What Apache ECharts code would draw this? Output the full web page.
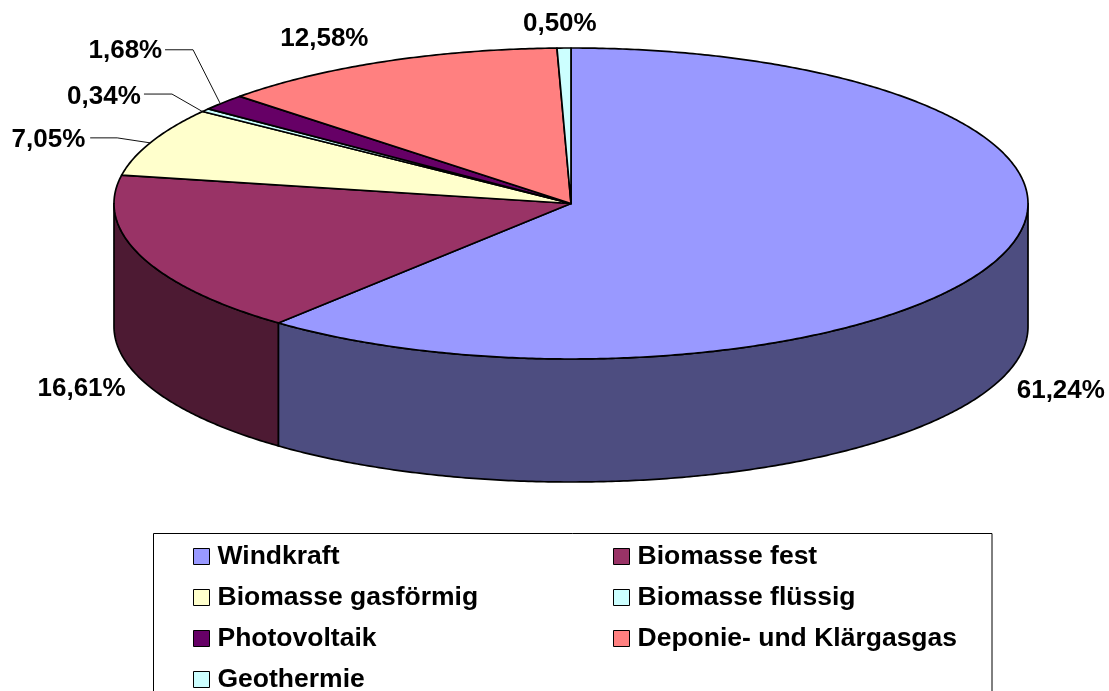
<!DOCTYPE html>
<html>
<head>
<meta charset="utf-8">
<style>html,body{margin:0;padding:0;background:#fff;overflow:hidden}#c{width:1109px;height:691px}</style>
<script src="https://cdn.jsdelivr.net/npm/echarts@6/dist/echarts.min.js"></script>
</head>
<body>
<div id="c"></div>
<script>
const categories = ['Windkraft','Biomasse fest','Biomasse gasförmig','Biomasse flüssig','Photovoltaik','Deponie- und Klärgasgas','Geothermie'];
const shares = [61.24,16.61,7.05,0.34,1.68,12.58,0.50];
const colors = ['#9999FF','#993366','#FFFFCC','#CCFFFF','#660066','#FF8080','#CCFFFF'];
const sideColors = ['#4D4D80','#4D1A33','#80806A','#6A8080','#330033','#804040','#6A8080'];

// Layout: pie geometry and label offsets measured from each slice's rim midpoint
const pie = {cx:571, cy:203.5, rx:457, ry:155.5, depth:123, perspective:0.0113};
const labelOffsets = [[61,133.5],[-59,133.5],[-101.7,-3.5],[-98.5,-15],[-95,-52.5],[-57.5,-23.5],[-4,-24.5]];
const leaderOffsets = [null,null,[[-60,-5],[-33,-5]],[[-58.5,-17.5],[-30.5,-17.5]],[[-55.3,-54],[-27.3,-54]],null,null];
const FONT = 'bold 26px "Liberation Sans", Arial, sans-serif';

const total = shares.reduce((a,b)=>a+b,0);
const starts = [];
shares.reduce((acc,v,i)=>{starts[i]=acc;return acc+v;},0);
const toAngle = v => v/total*2*Math.PI;
// slight foreshortening of the tilted disc, as in the 3D view
const warp = a => a - pie.perspective*Math.sin(2*a);
const pt = (a,dy=0) => [pie.cx+pie.rx*Math.sin(a), pie.cy-pie.ry*Math.cos(a)+dy];
function arc(a0,a1,dy=0){
  const n = Math.max(2,Math.ceil(Math.abs(a1-a0)/(Math.PI/360)));
  const out=[];
  for(let k=0;k<=n;k++) out.push(pt(a0+(a1-a0)*k/n,dy));
  return out;
}
const strokeStyle = {stroke:'#000',lineWidth:1.7,lineJoin:'round'};

function makeRender(i){
  return function(params,api){
    const value = api.value(0);
    const b0 = toAngle(starts[i]), b1 = b0+toAngle(value);
    const a0 = warp(b0), a1 = warp(b1);
    const children=[];
    const s0 = Math.max(a0,Math.PI/2), s1 = Math.min(a1,Math.PI*1.5);
    if(s1>s0){
      children.push({type:'polygon',shape:{points:arc(s0,s1).concat(arc(s1,s0,pie.depth))},
        style:Object.assign({fill:sideColors[i]},strokeStyle)});
    }
    children.push({type:'polygon',shape:{points:[[pie.cx,pie.cy]].concat(arc(a0,a1))},
      style:Object.assign({fill:colors[i]},strokeStyle)});
    const mid = pt((b0+b1)/2);
    if(leaderOffsets[i]){
      const pts = leaderOffsets[i].map(o=>[mid[0]+o[0],mid[1]+o[1]]).concat([mid]);
      children.push({type:'polyline',shape:{points:pts},style:{stroke:'#111',lineWidth:1,fill:'none'}});
    }
    children.push({type:'text',style:{
      text:value.toFixed(2).replace('.',',')+'%',
      x:mid[0]+labelOffsets[i][0], y:mid[1]+labelOffsets[i][1],
      font:FONT, fill:'#000', align:'center', verticalAlign:'middle'}});
    return {type:'group',children};
  };
}

const legendBase = {orient:'vertical',top:542.5,height:300,padding:0,itemWidth:16,itemHeight:16,itemGap:13,icon:'rect',
  selectedMode:false,itemStyle:{borderColor:'#000',borderWidth:1},
  textStyle:{fontFamily:'"Liberation Sans", Arial, sans-serif',fontWeight:'bold',fontSize:26.5,color:'#000',lineHeight:26,padding:[2,0,0,3]}};

const chart = echarts.init(document.getElementById('c'),null,{renderer:'canvas'});
chart.setOption({
  animation:false,
  backgroundColor:'#fff',
  color:colors,
  legend:[
    Object.assign({},legendBase,{left:193,data:categories.filter((_,i)=>i%2===0)}),
    Object.assign({},legendBase,{left:613,data:categories.filter((_,i)=>i%2===1)})
  ],
  graphic:[{type:'rect',silent:true,z:-1,shape:{x:153.5,y:533.5,width:838.5,height:220},style:{fill:'#fff',stroke:'#000',lineWidth:1}}],
  series:categories.map((name,i)=>({
    type:'custom',name,coordinateSystem:'none',silent:true,
    itemStyle:{color:colors[i]},
    renderItem:makeRender(i),
    data:[[shares[i]]]
  }))
});
</script>
</body>
</html>
